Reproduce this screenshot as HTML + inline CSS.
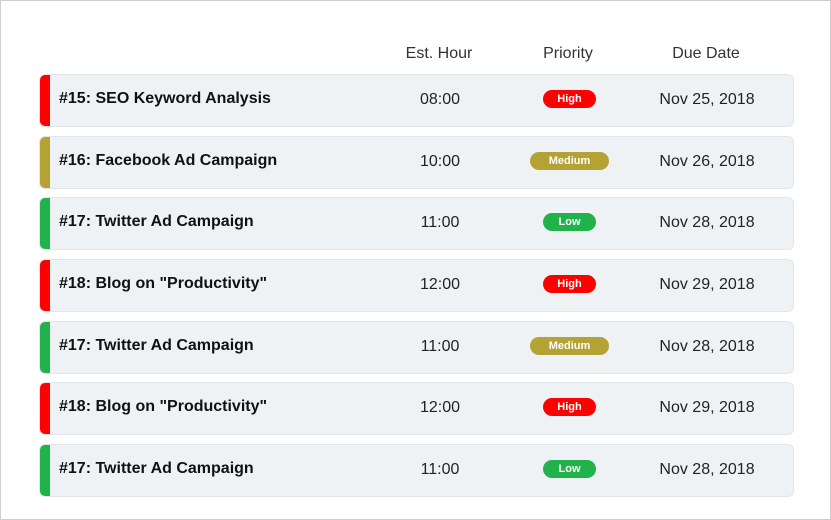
<!DOCTYPE html>
<html><head><style>
body{margin:0;width:831px;height:520px;position:relative;font-family:"Liberation Sans",sans-serif;background:#fff;overflow:hidden}
.frame{position:absolute;left:0;top:0;width:829px;height:518px;border:1px solid #cfcfcf}
.h{position:absolute;top:45px;font-size:16px;color:#333;transform:translateX(-50%);white-space:nowrap}
.row{position:absolute;left:39px;width:753px;height:51px;background:#eff2f5;border:1px solid #e2e6ea;border-radius:6px;overflow:hidden}
.bar{position:absolute;left:0;top:0;bottom:0;width:10px}
.t{position:absolute;left:19px;top:15px;font-size:16px;font-weight:bold;color:#111;white-space:nowrap}
.c{position:absolute;top:16px;font-size:16px;color:#222;transform:translateX(-50%);white-space:nowrap}
.b{position:absolute;top:15px;height:18px;line-height:18px;border-radius:9px;color:#fff;font-size:11px;font-weight:bold;text-align:center}
</style></head><body>
<div class="frame"></div>
<div class="h" style="left:439px">Est. Hour</div>
<div class="h" style="left:568px">Priority</div>
<div class="h" style="left:706px">Due Date</div>

<div class="row" style="top:74px"><div class="bar" style="background:#ff0000"></div><div class="t">#15: SEO Keyword Analysis</div><div class="c" style="left:400px">08:00</div><div class="b" style="left:503px;width:53px;background:#ff0000">High</div><div class="c" style="left:667px">Nov 25, 2018</div></div>
<div class="row" style="top:136px"><div class="bar" style="background:#b4a334"></div><div class="t">#16: Facebook Ad Campaign</div><div class="c" style="left:400px">10:00</div><div class="b" style="left:490px;width:79px;background:#b4a334">Medium</div><div class="c" style="left:667px">Nov 26, 2018</div></div>
<div class="row" style="top:197px"><div class="bar" style="background:#22b24c"></div><div class="t">#17: Twitter Ad Campaign</div><div class="c" style="left:400px">11:00</div><div class="b" style="left:503px;width:53px;background:#22b24c">Low</div><div class="c" style="left:667px">Nov 28, 2018</div></div>
<div class="row" style="top:259px"><div class="bar" style="background:#ff0000"></div><div class="t">#18: Blog on "Productivity"</div><div class="c" style="left:400px">12:00</div><div class="b" style="left:503px;width:53px;background:#ff0000">High</div><div class="c" style="left:667px">Nov 29, 2018</div></div>
<div class="row" style="top:321px"><div class="bar" style="background:#22b24c"></div><div class="t">#17: Twitter Ad Campaign</div><div class="c" style="left:400px">11:00</div><div class="b" style="left:490px;width:79px;background:#b4a334">Medium</div><div class="c" style="left:667px">Nov 28, 2018</div></div>
<div class="row" style="top:382px"><div class="bar" style="background:#ff0000"></div><div class="t">#18: Blog on "Productivity"</div><div class="c" style="left:400px">12:00</div><div class="b" style="left:503px;width:53px;background:#ff0000">High</div><div class="c" style="left:667px">Nov 29, 2018</div></div>
<div class="row" style="top:444px"><div class="bar" style="background:#22b24c"></div><div class="t">#17: Twitter Ad Campaign</div><div class="c" style="left:400px">11:00</div><div class="b" style="left:503px;width:53px;background:#22b24c">Low</div><div class="c" style="left:667px">Nov 28, 2018</div></div>
</body></html>
